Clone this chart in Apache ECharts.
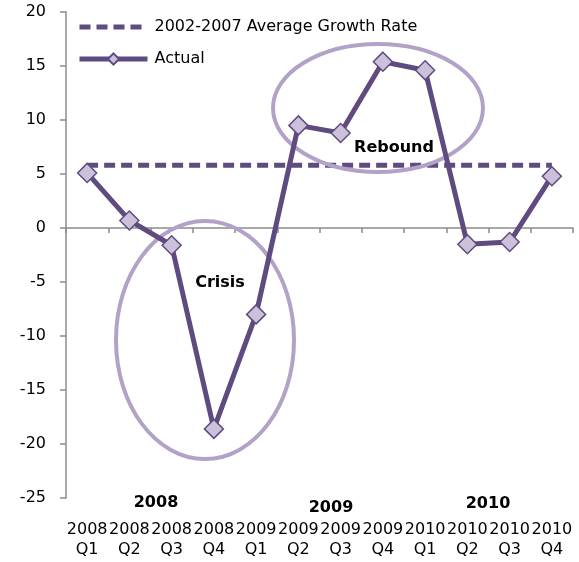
<!DOCTYPE html>
<html>
<head>
<meta charset="utf-8">
<script src="https://cdn.jsdelivr.net/npm/echarts@6/dist/echarts.min.js"></script>
<style>html,body{margin:0;padding:0;background:#fff}#c{width:579px;height:562px}</style>
</head>
<body>
<div id="c"></div>
<script>
var categories = ['2008\nQ1','2008\nQ2','2008\nQ3','2008\nQ4','2009\nQ1','2009\nQ2','2009\nQ3','2009\nQ4','2010\nQ1','2010\nQ2','2010\nQ3','2010\nQ4'];
var actual = [5.1, 0.7, -1.6, -18.6, -8.0, 9.5, 8.8, 15.4, 14.6, -1.5, -1.3, 4.8];
var average = [5.8, 5.8, 5.8, 5.8, 5.8, 5.8, 5.8, 5.8, 5.8, 5.8, 5.8, 5.8];
var yTicks = [-25, -20, -15, -10, -5, 0, 5, 10, 15, 20];
var yearLabels = ['2008', '2009', '2010'];

var dark = '#5f4b7f';
var light = '#b3a2c7';
var fnt = '"DejaVu Sans", sans-serif';

var chart = echarts.init(document.getElementById('c'));
chart.setOption({
  animation: false,
  grid: {left: 66, right: 6, top: 12, bottom: 64},
  legend: {
    orient: 'vertical', left: 72, top: 14, itemWidth: 68, itemHeight: 14, itemGap: 16,
    textStyle: {fontFamily: fnt, fontSize: 16, color: '#000', padding: [0, 0, 0, 2]},
    data: [
      {name: '2002-2007 Average Growth Rate', lineStyle: {width: 5, type: [11, 6]}, itemStyle: {opacity: 0}},
      {name: 'Actual', lineStyle: {width: 5}}
    ]
  },
  xAxis: [{
    type: 'category', data: categories, boundaryGap: true,
    axisLine: {onZero: true, lineStyle: {color: '#8c8c8c', width: 1.5}},
    axisTick: {show: true, length: 5, inside: false, lineStyle: {color: '#8c8c8c', width: 1.5}},
    axisLabel: {show: false}
  }, {
    type: 'category', data: categories, boundaryGap: true, position: 'bottom',
    axisLine: {show: false}, axisTick: {show: false},
    axisLabel: {show: true, interval: 0, margin: 22, fontFamily: fnt, fontSize: 16, color: '#000', lineHeight: 20}
  }],
  yAxis: {
    type: 'value', min: yTicks[0], max: yTicks[yTicks.length - 1], interval: 5,
    splitLine: {show: false},
    axisLine: {show: true, lineStyle: {color: '#8c8c8c', width: 1.5}},
    axisTick: {show: true, length: 6, lineStyle: {color: '#8c8c8c', width: 1.5}},
    axisLabel: {fontFamily: fnt, fontSize: 16, color: '#000', margin: 20}
  },
  series: [{
    name: '2002-2007 Average Growth Rate', type: 'line', data: average, xAxisIndex: 0,
    symbol: 'none', lineStyle: {color: dark, width: 5, type: [11, 6]},
    itemStyle: {color: dark}, z: 2
  }, {
    name: 'Actual', type: 'line', data: actual, xAxisIndex: 0,
    symbol: 'diamond', symbolSize: 19,
    lineStyle: {color: dark, width: 5},
    itemStyle: {color: '#ccc1da', borderColor: dark, borderWidth: 1.5}, z: 4
  }],
  graphic: [
    {type: 'ellipse', shape: {cx: 205, cy: 340, rx: 89, ry: 119}, style: {fill: 'none', stroke: light, lineWidth: 4}, z: 3},
    {type: 'ellipse', shape: {cx: 378, cy: 108, rx: 105, ry: 64}, style: {fill: 'none', stroke: light, lineWidth: 4}, z: 3},
    {type: 'text', x: 220, y: 283, style: {text: 'Crisis', font: 'bold 16px ' + fnt, fill: '#000', align: 'center', verticalAlign: 'middle'}, z: 5},
    {type: 'text', x: 394, y: 148, style: {text: 'Rebound', font: 'bold 16px ' + fnt, fill: '#000', align: 'center', verticalAlign: 'middle'}, z: 5},
    {type: 'text', x: 156, y: 503, style: {text: yearLabels[0], font: 'bold 16px ' + fnt, fill: '#000', align: 'center', verticalAlign: 'middle'}},
    {type: 'text', x: 331, y: 508, style: {text: yearLabels[1], font: 'bold 16px ' + fnt, fill: '#000', align: 'center', verticalAlign: 'middle'}},
    {type: 'text', x: 488, y: 504, style: {text: yearLabels[2], font: 'bold 16px ' + fnt, fill: '#000', align: 'center', verticalAlign: 'middle'}}
  ]
});
</script>
</body>
</html>
